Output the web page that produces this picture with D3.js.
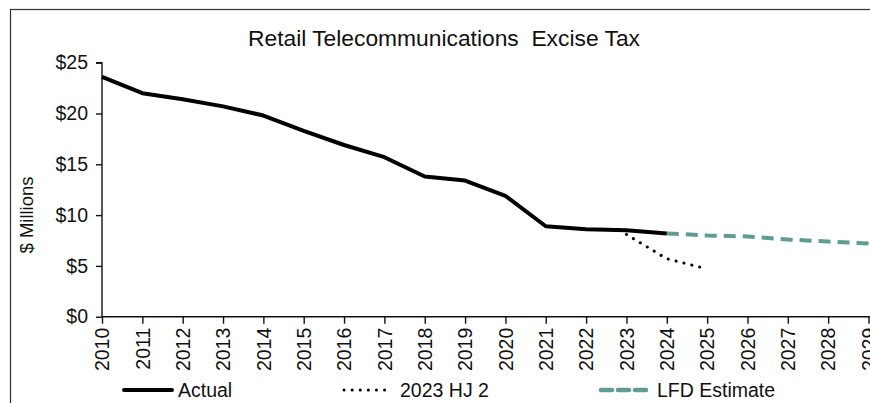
<!DOCTYPE html>
<html>
<head>
<meta charset="utf-8">
<script src="https://cdn.jsdelivr.net/npm/d3@7"></script>
<style>
  html, body { margin: 0; padding: 0; background: #fff; }
  svg { display: block; font-family: "Liberation Sans", Arial, sans-serif; }
</style>
</head>
<body>
<svg id="chart" width="870" height="403"></svg>
<script>
// Retail Telecommunications Excise Tax, $ millions by fiscal year
const years = d3.range(2010, 2031);
const actualYears = d3.range(2010, 2025);
const actualValues = [23.6, 22.0, 21.4, 20.7, 19.8, 18.3, 16.9, 15.7, 13.8, 13.4, 11.9, 8.9, 8.6, 8.5, 8.2];
const hj2Years = [2023, 2024, 2025];
const hj2Values = [8.1, 5.7, 4.7];
const lfdYears = [2024, 2025, 2026, 2027, 2028, 2029];
const lfdValues = [8.2, 8.0, 7.9, 7.6, 7.4, 7.2];
const yTicks = [0, 5, 10, 15, 20, 25];
const legendLabels = ["Actual", "2023 HJ 2", "LFD Estimate"];

const FONT = "Liberation Sans, Arial, sans-serif";
const FS = 19.5;
const svg = d3.select("#chart");

// outer chart frame
svg.append("rect")
  .attr("x", 10.5).attr("y", 9.5)
  .attr("width", 900).attr("height", 420)
  .attr("fill", "none").attr("stroke", "#333").attr("stroke-width", 1.2);

const x = d3.scaleLinear().domain([2010, 2029]).range([102, 868.5]);
const y = d3.scaleLinear().domain([0, 25]).range([316.7, 62.7]);

// title
svg.append("text")
  .attr("x", 444).attr("y", 46)
  .attr("text-anchor", "middle")
  .attr("font-size", 22.8)
  .attr("fill", "#111")
  .style("white-space", "pre")
  .text("Retail Telecommunications  Excise Tax");

// y axis
const yAxis = svg.append("g")
  .attr("transform", `translate(${x(2010)},0)`)
  .call(d3.axisLeft(y).tickValues(yTicks).tickSize(6).tickPadding(8).tickFormat(d => "$" + d));
yAxis.selectAll("text").attr("font-size", FS).attr("fill", "#111").attr("font-family", FONT);
yAxis.selectAll("line, path").attr("stroke", "#111").attr("stroke-width", 1.4);
yAxis.select(".domain").attr("d", `M-6,${y(25)}H0V${y(0)}`);

// x axis
const xAxis = svg.append("g")
  .attr("transform", `translate(0,${y(0)})`)
  .call(d3.axisBottom(x).tickValues(years).tickSize(7).tickFormat(d3.format("d")));
xAxis.select(".domain").attr("d", `M${x(2010)},0H${x(2030)}`);
xAxis.selectAll("line, path").attr("stroke", "#111").attr("stroke-width", 1.4);
xAxis.selectAll("text")
  .attr("font-size", FS).attr("fill", "#111")
  .attr("font-family", FONT)
  .attr("transform", "rotate(-90)")
  .attr("text-anchor", "end")
  .attr("x", -11).attr("y", 0).attr("dy", "0.35em");

// y axis title
svg.append("text")
  .attr("transform", "translate(33,215) rotate(-90)")
  .attr("text-anchor", "middle")
  .attr("font-size", 18.5)
  .attr("fill", "#111")
  .text("$ Millions");

const line = d3.line().x(d => x(d[0])).y(d => y(d[1]));

// LFD estimate
svg.append("path")
  .datum(d3.zip(lfdYears, lfdValues))
  .attr("d", line)
  .attr("fill", "none")
  .attr("stroke", "#5E9C94")
  .attr("stroke-width", 4)
  .attr("stroke-dasharray", "12,7");

// 2023 HJ 2
svg.append("path")
  .datum(d3.zip(hj2Years, hj2Values))
  .attr("d", line)
  .attr("fill", "none")
  .attr("stroke", "#000")
  .attr("stroke-width", 3)
  .attr("stroke-linecap", "round")
  .attr("stroke-dasharray", "0.1,8");

// Actual
svg.append("path")
  .datum(d3.zip(actualYears, actualValues))
  .attr("d", line)
  .attr("fill", "none")
  .attr("stroke", "#000")
  .attr("stroke-width", 4)
  .attr("stroke-linejoin", "round");

// legend
const legendItems = [
  { label: legendLabels[0], x0: 124, x1: 172, tx: 178, stroke: "#000", width: 4, dash: null },
  { label: legendLabels[1], x0: 344, x1: 390, tx: 400, stroke: "#000", width: 3, dash: "0.1,8" },
  { label: legendLabels[2], x0: 601, x1: 647, tx: 657, stroke: "#5E9C94", width: 4.5, dash: "11,6" }
];
const lg = svg.append("g");
legendItems.forEach(it => {
  lg.append("line")
    .attr("x1", it.x0).attr("x2", it.x1)
    .attr("y1", 390).attr("y2", 390)
    .attr("stroke", it.stroke).attr("stroke-width", it.width)
    .attr("stroke-linecap", "round")
    .attr("stroke-dasharray", it.dash);
  lg.append("text")
    .attr("x", it.tx).attr("y", 397)
    .attr("font-size", FS).attr("fill", "#111")
    .text(it.label);
});
</script>
</body>
</html>
